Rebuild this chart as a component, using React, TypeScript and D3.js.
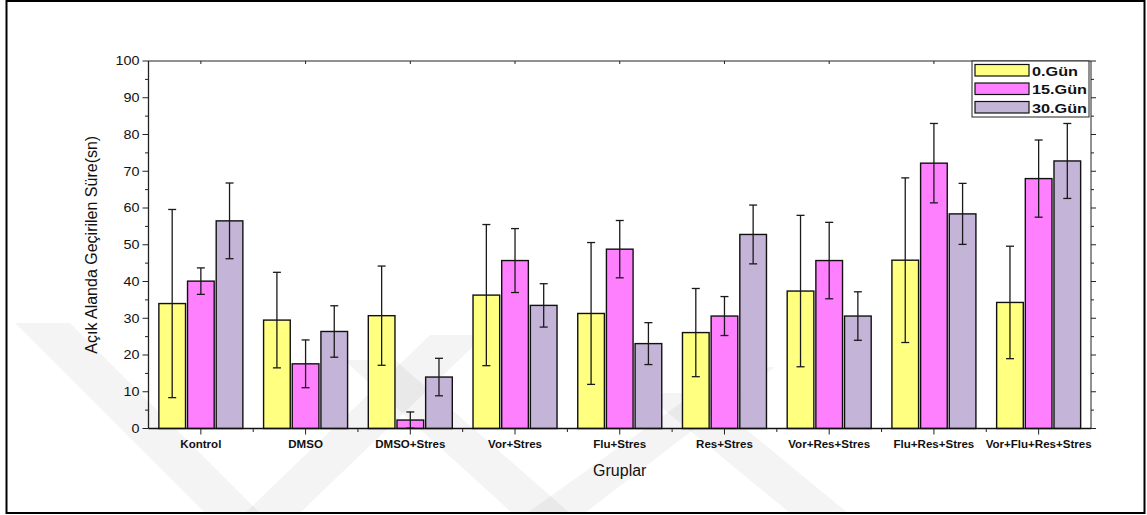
import React from "react";
import * as d3 from "d3";

const categories = [
  "Kontrol",
  "DMSO",
  "DMSO+Stres",
  "Vor+Stres",
  "Flu+Stres",
  "Res+Stres",
  "Vor+Res+Stres",
  "Flu+Res+Stres",
  "Vor+Flu+Res+Stres",
];
const seriesNames = ["0.Gün", "15.Gün", "30.Gün"];
const day0 = [34.0, 29.5, 30.7, 36.3, 31.3, 26.1, 37.4, 45.8, 34.3];
const day0Err = [25.6, 13.0, 13.5, 19.2, 19.3, 12.0, 20.6, 22.4, 15.3];
const day15 = [40.1, 17.6, 2.3, 45.7, 48.8, 30.6, 45.7, 72.2, 68.0];
const day15Err = [3.6, 6.5, 2.2, 8.7, 7.8, 5.3, 10.4, 10.8, 10.5];
const day30 = [56.5, 26.4, 14.0, 33.5, 23.1, 52.8, 30.6, 58.4, 72.8];
const day30Err = [10.3, 7.0, 5.1, 5.9, 5.7, 8.0, 6.6, 8.3, 10.2];
const yTicks = [0, 10, 20, 30, 40, 50, 60, 70, 80, 90, 100];
const colors = ["#FFFF80", "#FF80FF", "#C4B4D8"];

const W = 1147;
const H = 515;
const left = 148.5;
const right = 1091;
const top = 61;
const bottom = 428.5;

// faint background watermark bands (decorative)
const watermark = [
  "M15,323 L70,323 L260,513 L205,513 Z",
  "M245,513 L300,513 L485,335 L430,335 Z",
  "M344,360 L395,360 L570,513 L512,513 Z",
  "M527,513 L585,513 L775,367 L731,367 Z",
  "M644,393 L702,393 L848,513 L790,513 Z",
];

export default function App() {
  const x = d3.scaleBand<string>().domain(categories).range([left, right]).padding(0);
  const xs = d3.scaleBand<string>().domain(seriesNames).range([-42, 42]).paddingInner(0.07);
  const y = d3.scaleLinear().domain([0, 100]).range([bottom, top]);
  const values = [day0, day15, day30];
  const errs = [day0Err, day15Err, day30Err];
  const minor = d3.range(5, 100, 10);
  const font = "'Liberation Sans', Arial, sans-serif";
  const boundaries = categories.slice(1).map((c) => x(c)!);

  return (
    <svg
      width={W}
      height={H}
      style={{ position: "absolute", left: 0, top: 0, background: "#fff" }}
      fontFamily={font}
    >
      <rect x={0} y={0} width={W} height={H} fill="#fff" />
      {watermark.map((d, i) => (
        <path key={"wm" + i} d={d} fill="#000" fillOpacity={0.045} />
      ))}
      {/* bars */}
      {categories.map((c, ci) => (
        <g key={c} transform={`translate(${x(c)! + x.bandwidth() / 2},0)`}>
          {seriesNames.map((s, si) => {
            const v = values[si][ci];
            return (
              <rect
                key={s}
                x={xs(s)!}
                y={y(v)}
                width={xs.bandwidth()}
                height={y(0) - y(v)}
                fill={colors[si]}
                stroke="#111"
                strokeWidth={1.4}
              />
            );
          })}
          {seriesNames.map((s, si) => {
            const v = values[si][ci];
            const e = errs[si][ci];
            const cx = xs(s)! + xs.bandwidth() / 2;
            const lo = Math.max(0, v - e);
            const hi = v + e;
            return (
              <g key={s + "e"} stroke="#1a1a1a" strokeWidth={1.3}>
                <line x1={cx} x2={cx} y1={y(lo)} y2={y(hi)} />
                <line x1={cx - 4} x2={cx + 4} y1={y(hi)} y2={y(hi)} />
                {v - e > 0 && <line x1={cx - 4} x2={cx + 4} y1={y(lo)} y2={y(lo)} />}
              </g>
            );
          })}
        </g>
      ))}
      {/* frame */}
      <line x1={left} x2={right} y1={top} y2={top} stroke="#222" strokeWidth={1} />
      <line x1={right} x2={right} y1={top} y2={bottom} stroke="#222" strokeWidth={1} />
      <line x1={left} x2={left} y1={top} y2={bottom} stroke="#222" strokeWidth={1.3} />
      <line x1={left} x2={right} y1={bottom} y2={bottom} stroke="#111" strokeWidth={1.6} />
      {/* y ticks */}
      {yTicks.map((t) => (
        <g key={t}>
          <line x1={left - 6} x2={left} y1={y(t)} y2={y(t)} stroke="#222" />
          <line x1={right} x2={right + 5} y1={y(t)} y2={y(t)} stroke="#222" />
          <text
            transform={`translate(${left - 9},${y(t)}) scale(1.15,1)`}
            dy="0.35em"
            textAnchor="end"
            fontSize={12.5}
            fill="#111"
          >
            {t}
          </text>
        </g>
      ))}
      {minor.map((t) => (
        <g key={"m" + t}>
          <line x1={left - 3.5} x2={left} y1={y(t)} y2={y(t)} stroke="#222" />
          <line x1={right} x2={right + 3} y1={y(t)} y2={y(t)} stroke="#222" />
        </g>
      ))}
      {/* x ticks */}
      {categories.map((c) => (
        <g key={"xt" + c}>
          <line
            x1={x(c)! + x.bandwidth() / 2}
            x2={x(c)! + x.bandwidth() / 2}
            y1={bottom}
            y2={bottom + 6}
            stroke="#222"
          />
          <line
            x1={x(c)! + x.bandwidth() / 2}
            x2={x(c)! + x.bandwidth() / 2}
            y1={top}
            y2={top + 3}
            stroke="#222"
          />
          <text
            transform={`translate(${x(c)! + x.bandwidth() / 2},447.5) scale(1.1,1)`}
            textAnchor="middle"
            fontSize={10.5}
            fontWeight="bold"
            fill="#111"
          >
            {c}
          </text>
        </g>
      ))}
      {boundaries.map((b, i) => (
        <line key={"b" + i} x1={b} x2={b} y1={bottom} y2={bottom + 3.5} stroke="#222" />
      ))}
      {/* axis titles */}
      <text
        x={(left + right) / 2}
        y={476}
        textAnchor="middle"
        fontSize={16}
        fill="#111"
      >
        Gruplar
      </text>
      <text
        transform={`translate(97,${(top + bottom) / 2}) rotate(-90)`}
        textAnchor="middle"
        fontSize={16}
        fill="#111"
      >
        Açık Alanda Geçirilen Süre(sn)
      </text>
      {/* legend */}
      <g>
        <rect x={972} y={61} width={117} height={56} fill="#fff" stroke="#222" strokeWidth={1} />
        {seriesNames.map((s, i) => (
          <g key={"lg" + s}>
            <rect
              x={975}
              y={64.5 + i * 18.5}
              width={54}
              height={11.5}
              fill={colors[i]}
              stroke="#111"
              strokeWidth={1.2}
            />
            <text
              transform={`translate(1032,${75.5 + i * 18.5}) scale(1.25,1)`}
              fontSize={13}
              fontWeight="bold"
              fill="#111"
            >
              {s}
            </text>
          </g>
        ))}
      </g>
      {/* outer border */}
      <rect x={6.5} y={1} width={1138} height={512} fill="none" stroke="#000" strokeWidth={2} />
    </svg>
  );
}
